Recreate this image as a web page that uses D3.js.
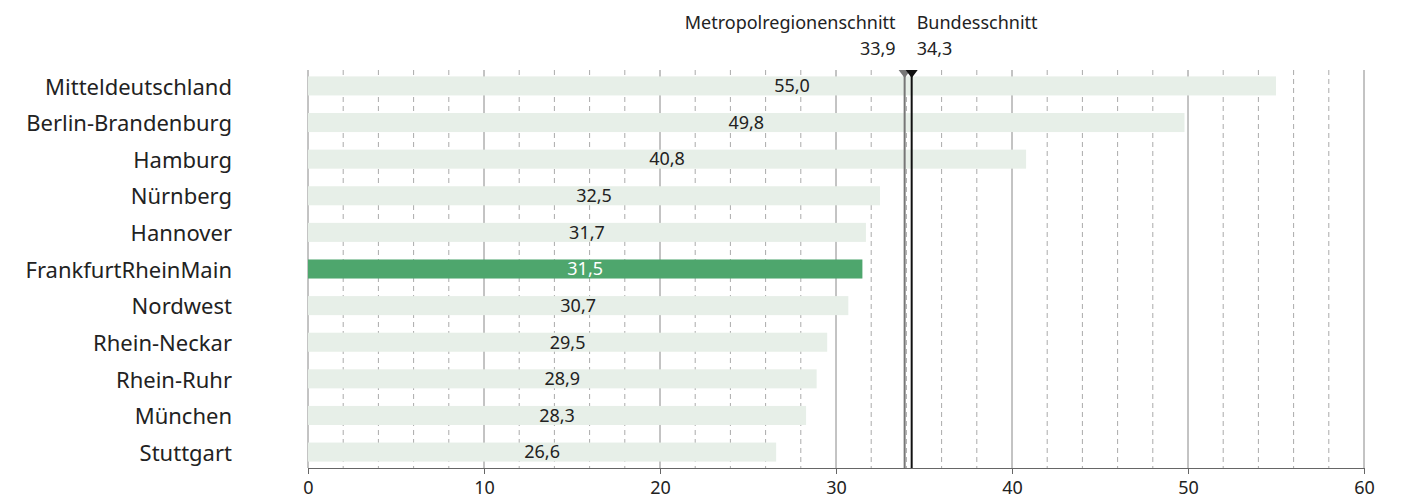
<!DOCTYPE html>
<html>
<head>
<meta charset="utf-8">
<script src="https://cdn.jsdelivr.net/npm/d3@7"></script>
<style>
  body { margin: 0; background: #fff; }
  text { font-family: "Noto Sans", sans-serif; fill: #222; }
</style>
</head>
<body>
<svg id="chart" width="1417" height="499"></svg>
<script>
const regions = ['Mitteldeutschland', 'Berlin-Brandenburg', 'Hamburg', 'Nürnberg', 'Hannover',
  'FrankfurtRheinMain', 'Nordwest', 'Rhein-Neckar', 'Rhein-Ruhr', 'München', 'Stuttgart'];
const values = [55.0, 49.8, 40.8, 32.5, 31.7, 31.5, 30.7, 29.5, 28.9, 28.3, 26.6];
const highlight = 'FrankfurtRheinMain';
const refNames = ['Metropolregionenschnitt', 'Bundesschnitt'];
const refValues = [33.9, 34.3];
const majorTicks = [0, 10, 20, 30, 40, 50, 60];

function drawChart() {
  const svg = d3.select('svg#chart');
  const top = 70;
  const bottom = 468;
  const fmt = (v) => d3.format('.1f')(v).replace('.', ',');

  const x = d3.scaleLinear().domain([0, 60]).range([308, 1364]);
  const y = d3.scaleBand().domain(regions).range([top, bottom]).paddingInner(0.48).paddingOuter(0.175);

  // minor dashed grid every 2
  const minor = d3.range(2, 60, 2).filter((v) => v % 10 !== 0);
  svg.append('g').selectAll('line').data(minor).enter()
    .append('line')
    .attr('x1', (d) => x(d)).attr('x2', (d) => x(d))
    .attr('y1', top).attr('y2', bottom)
    .attr('stroke', '#aaa').attr('stroke-width', 1)
    .attr('stroke-dasharray', '5,4');

  svg.append('g').selectAll('line').data(majorTicks).enter()
    .append('line')
    .attr('x1', (d) => x(d)).attr('x2', (d) => x(d))
    .attr('y1', top).attr('y2', bottom)
    .attr('stroke', '#888').attr('stroke-width', 1);

  // bars
  svg.append('g').selectAll('rect').data(regions).enter()
    .append('rect')
    .attr('x', x(0))
    .attr('y', (d) => y(d))
    .attr('width', (d, i) => x(values[i]) - x(0))
    .attr('height', y.bandwidth())
    .attr('fill', (d) => d === highlight ? '#4ea66d' : '#e7efe8');

  svg.append('g').selectAll('text').data(regions).enter()
    .append('text')
    .attr('x', (d, i) => (x(0) + x(values[i])) / 2)
    .attr('y', (d) => y(d) + y.bandwidth() / 2)
    .attr('dy', '0.35em')
    .attr('text-anchor', 'middle')
    .style('font-size', '18px')
    .style('fill', (d) => d === highlight ? '#fff' : '#222')
    .text((d, i) => fmt(values[i]));

  // category labels
  svg.append('g').selectAll('text').data(regions).enter()
    .append('text')
    .attr('x', 232)
    .attr('y', (d) => y(d) + y.bandwidth() / 2 + 1)
    .attr('dy', '0.35em')
    .attr('text-anchor', 'end')
    .style('font-size', '22px')
    .text((d) => d);

  // x axis
  const axis = svg.append('g')
    .attr('transform', `translate(0,${bottom})`)
    .call(d3.axisBottom(x).tickValues(majorTicks).tickSize(6).tickPadding(7).tickFormat(d3.format('d')));
  axis.select('.domain').attr('stroke', '#666');
  axis.selectAll('.tick line').attr('stroke', '#666');
  axis.selectAll('.tick text').style('font-size', '18px').style('font-family', '"Noto Sans", sans-serif').attr('fill', '#222');

  // reference lines
  const refColors = ['#777', '#111'];
  refValues.forEach((v, i) => {
    const g = svg.append('g');
    g.append('line')
      .attr('x1', x(v)).attr('x2', x(v))
      .attr('y1', top).attr('y2', bottom)
      .attr('stroke', refColors[i]).attr('stroke-width', 2);
    g.append('path')
      .attr('d', `M${x(v) - 6},${top} L${x(v) + 6},${top} L${x(v)},${top + 8} Z`)
      .attr('fill', refColors[i]);
    const left = i === 0;
    const tx = left ? x(v) - 9 : x(v) + 5;
    g.append('text')
      .attr('x', tx).attr('y', 29)
      .attr('text-anchor', left ? 'end' : 'start')
      .style('font-size', '18px')
      .text(refNames[i]);
    g.append('text')
      .attr('x', tx).attr('y', 55)
      .attr('text-anchor', left ? 'end' : 'start')
      .style('font-size', '18px')
      .text(fmt(v));
  });
}

window.addEventListener('load', drawChart);
</script>
</body>
</html>
